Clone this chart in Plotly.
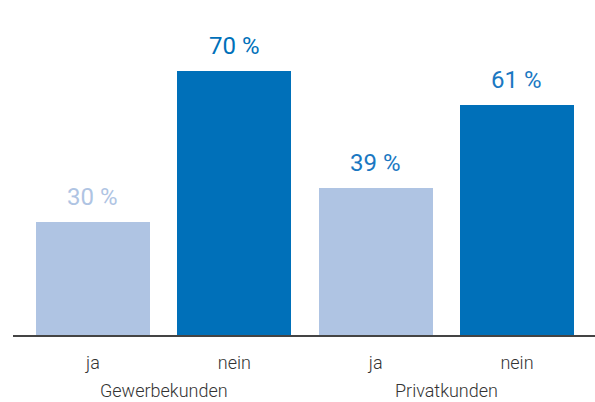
import plotly.graph_objects as go

categories = ["Gewerbekunden ja", "Gewerbekunden nein", "Privatkunden ja", "Privatkunden nein"]
tick_labels = ["ja", "nein", "ja", "nein"]
groups = ["Gewerbekunden", "Privatkunden"]
values = [30, 70, 39, 61]

LIGHT = "#afc4e3"
DARK = "#0070b9"
bar_colors = [LIGHT, DARK, LIGHT, DARK]
label_colors = [LIGHT, DARK, "#1a78c2", "#1a78c2"]

fig = go.Figure()
fig.add_trace(go.Bar(
    x=categories, y=values, marker=dict(color=bar_colors, line=dict(width=0)),
    width=0.807, hoverinfo="skip", showlegend=False,
))

for c, v, col in zip(categories, values, label_colors):
    fig.add_annotation(x=c, y=v, text=f"{v} %", showarrow=False, yanchor="bottom",
                       yshift=9, font=dict(family="Roboto", size=24, color=col, weight=400))

for i, g in enumerate(groups):
    fig.add_annotation(x=2 * i + 0.5, y=0, yref="paper", text=g, showarrow=False,
                       yanchor="middle", yshift=-55,
                       font=dict(family="Roboto", size=18, color="#333333", weight=300))

fig.update_layout(
    width=595, height=402,
    margin=dict(l=13, r=0, t=0, b=67),
    paper_bgcolor="white", plot_bgcolor="white",
    bargap=0,
    xaxis=dict(type="category", range=[-0.566, 3.552], tickvals=categories, ticktext=tick_labels,
               showline=True, linecolor="#444444", linewidth=1.5, showgrid=False, ticks="",
               zeroline=False, tickfont=dict(family="Roboto", size=18, color="#333333", weight=300),
               ticklabelstandoff=11),
    yaxis=dict(range=[0, 88.9], visible=False, showgrid=False, zeroline=False),
)

fig.write_html("out.html", config={"displayModeBar": False},
               post_script="document.body.style.margin='0';")
